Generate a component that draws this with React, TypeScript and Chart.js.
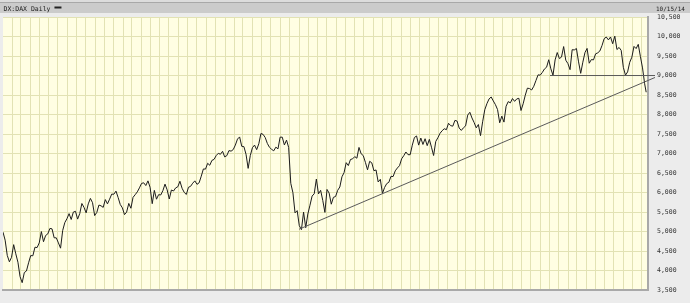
import { useEffect, useRef } from "react";
import { Chart, registerables } from "chart.js";

Chart.register(...registerables);

// ---- labels ----
const symbolLabel = "DX:DAX Daily";
const dateLabel = "10/15/14";
const yTickValues = [3500, 4000, 4500, 5000, 5500, 6000, 6500, 7000, 7500, 8000, 8500, 9000, 9500, 10000, 10500];

// ---- dates ----
const firstWeek = "2009-01-02"; // weekly closes start here, one value per week
const lastDate = "2014-10-15";
const axisEnd = "2014-10-21";

// ---- weekly closes ----
const dax2009 = [
  4985, 4780, 4390, 4225, 4340, 4665, 4430, 4215, 3845, 3690,
  3950, 3990, 4200, 4385, 4380, 4600, 4590, 4710, 5000, 4740,
  4900, 4940, 5080, 5070, 4840, 4840, 4710, 4575, 5030, 5230,
  5330, 5460, 5310, 5500, 5520, 5320, 5460, 5720, 5620, 5480,
  5710, 5850, 5740, 5410, 5490, 5680, 5660, 5620, 5820, 5710,
  5830, 5960,
];
const dax2010 = [
  5957, 6037, 5875, 5695, 5608, 5434, 5500, 5722, 5598, 5877,
  5945, 6018, 6120, 6235, 6250, 6180, 6300, 6135, 5715, 6056,
  5830, 5946, 5938, 6049, 6216, 6070, 5835, 6065, 6040, 6120,
  6148, 6290, 6110, 6005, 5951, 6135, 6160, 6240, 6300, 6211,
  6250, 6420, 6605, 6601, 6750, 6700, 6824, 6850, 6947, 7006,
  6982, 7057, 6914,
];
const dax2011 = [
  6947, 7076, 7062, 7102, 7217, 7371, 7426, 7185, 7178, 6982,
  6620, 6946, 7150, 7217, 7100, 7250, 7514, 7492, 7411, 7260,
  7160, 7109, 7070, 7164, 7120, 7420, 7420, 7220, 7344, 7158,
  6236, 5997, 5480, 5537, 5150, 5050, 5500, 5100, 5450, 5676,
  5910, 5970, 6346, 5966, 6057, 5800, 5492, 6080, 5986, 5702,
  5878, 5898,
];
const dax2012 = [
  6057, 6143, 6404, 6511, 6766, 6692, 6848, 6864, 6921, 6880,
  7157, 6995, 6947, 6775, 6583, 6801, 6762, 6561, 6579, 6271,
  6339, 5978, 6130, 6229, 6263, 6416, 6410, 6557, 6630, 6689,
  6865, 6945, 7040, 6971, 6970, 7214, 7412, 7451, 7216, 7397,
  7233, 7380, 7203, 7363, 7163, 6950, 7309, 7405, 7518, 7585,
  7636, 7612,
];
const dax2013 = [
  7776, 7715, 7702, 7850, 7833, 7652, 7593, 7661, 7708, 7986,
  8058, 7912, 7795, 7659, 7744, 7459, 7814, 8122, 8278, 8399,
  8450, 8348, 8254, 8127, 7789, 7959, 7806, 8212, 8331, 8299,
  8410, 8338, 8400, 8416, 8103, 8275, 8495, 8676, 8665, 8630,
  8725, 8870, 9017, 9009, 9079, 9168, 9213, 9405, 9172, 9006,
  9400, 9589,
];
const dax2014 = [
  9435, 9473, 9742, 9393, 9306, 9150, 9662, 9656, 9692, 9350,
  9056, 9342, 9587, 9695, 9315, 9409, 9401, 9556, 9581, 9630,
  9768, 9943, 9987, 9913, 9987, 9815, 10009, 9666, 9720, 9644,
  9210, 9009, 9092, 9339, 9470, 9747, 9691, 9799, 9490, 9195,
  8788,
];
const lastClose = 8572;

// ---- drawn trend lines: [date, value] ----
const supportLine: [string, number][] = [["2011-09-01", 5060], ["2014-11-13", 8950]];
const resistanceLine: [string, number][] = [["2013-12-03", 9000], ["2014-11-13", 9000]];

const DAY = 86400000;
const t0 = Date.parse(firstWeek);
const dayOf = (s: string) => Math.round((Date.parse(s) - t0) / DAY);

const weekly = [...dax2009, ...dax2010, ...dax2011, ...dax2012, ...dax2013, ...dax2014];
const seriesPoints = weekly.map((v, i) => ({ x: i * 7, y: v }));
seriesPoints.push({ x: dayOf(lastDate), y: lastClose });

// month boundaries for the vertical grid
const monthStarts: number[] = (() => {
  const out: number[] = [];
  const end = Date.parse(axisEnd);
  let y = 2009, m = 1;
  while (true) {
    const t = Date.UTC(y, m, 1);
    if (t > end) break;
    out.push((t - t0) / DAY);
    m++;
    if (m > 11) { m = 0; y++; }
  }
  return out;
})();

const FONT = '"DejaVu Sans Mono", monospace';

const framePlugin = {
  id: "frame",
  beforeDraw(chart: any) {
    const { ctx, chartArea: a, width, height } = chart;
    ctx.save();
    ctx.fillStyle = "#ececec";
    ctx.fillRect(0, 0, width, height);
    ctx.fillStyle = "#dcdcdc";
    ctx.fillRect(0, 0, width, 2);
    ctx.fillStyle = "#a8a8a8";
    ctx.fillRect(0, 2, width, 1);
    ctx.fillStyle = "#cbcbcb";
    ctx.fillRect(0, 3, width, 10);
    ctx.fillStyle = "#fffee3";
    ctx.fillRect(a.left, a.top, a.right - a.left, a.bottom - a.top);
    ctx.restore();
  },
  afterDraw(chart: any) {
    const { ctx } = chart;
    ctx.save();
    ctx.fillStyle = "#222";
    ctx.textBaseline = "alphabetic";
    ctx.font = `6.5px ${FONT}`;
    ctx.textAlign = "left";
    ctx.fillText(symbolLabel, 3.5, 10.5);
    const w = ctx.measureText(symbolLabel).width;
    ctx.fillRect(3.5 + w + 4, 6.5, 7, 2);
    ctx.font = `6px ${FONT}`;
    ctx.fillText(dateLabel, 656, 10.5);
    ctx.restore();
  },
};

export default function App() {
  const ref = useRef<HTMLCanvasElement | null>(null);
  useEffect(() => {
    if (!ref.current) return;
    const toPts = (l: [string, number][]) => l.map(([d, v]) => ({ x: dayOf(d), y: v }));
    const gridColor = "#e2e2b4";
    const chart = new Chart(ref.current, {
      type: "line",
      data: {
        datasets: [
          {
            data: toPts(supportLine),
            borderColor: "#5a5a5a",
            borderWidth: 1,
            pointRadius: 0,
            clip: false as any,
          },
          {
            data: toPts(resistanceLine),
            borderColor: "#5a5a5a",
            borderWidth: 1,
            pointRadius: 0,
            clip: false as any,
          },
          {
            data: seriesPoints,
            borderColor: "#1c1c1c",
            borderWidth: 1,
            pointRadius: 0,
            tension: 0,
          },
        ],
      },
      options: {
        animation: false,
        responsive: false,
        devicePixelRatio: 1,
        parsing: false,
        normalized: true,
        layout: { padding: { left: 3, top: 17, right: 0, bottom: 6 } },
        plugins: {
          legend: { display: false },
          title: { display: false },
          tooltip: { enabled: false },
        },
        scales: {
          x: {
            type: "linear",
            min: 0,
            max: dayOf(axisEnd),
            ticks: { display: false },
            grid: { color: gridColor, lineWidth: 1, drawTicks: false },
            border: { display: true, color: "#a9a9a9", width: 2 },
            afterBuildTicks: (s: any) => {
              s.ticks = monthStarts.map((v) => ({ value: v }));
            },
            afterFit: (s: any) => {
              s.height = 0;
            },
          },
          y: {
            type: "linear",
            position: "right",
            min: 3500,
            max: 10500,
            afterBuildTicks: (s: any) => {
              s.ticks = yTickValues.map((v) => ({ value: v }));
            },
            ticks: {
              autoSkip: false,
              padding: 9,
              color: "#333",
              font: { family: FONT, size: 6.5 },
              callback: (v: any) => Number(v).toLocaleString("en-US"),
            },
            grid: { color: gridColor, lineWidth: 1, drawTicks: false },
            border: { display: true, color: "#a9a9a9", width: 2 },
            afterFit: (s: any) => {
              s.width = 42;
            },
          },
        },
      } as any,
      plugins: [framePlugin],
    });
    return () => chart.destroy();
  }, []);
  return (
    <div style={{ position: "fixed", left: 0, top: 0, width: 690, height: 303, overflow: "hidden" }}>
      <canvas ref={ref} width={690} height={303} style={{ display: "block", width: 690, height: 303 }} />
    </div>
  );
}
